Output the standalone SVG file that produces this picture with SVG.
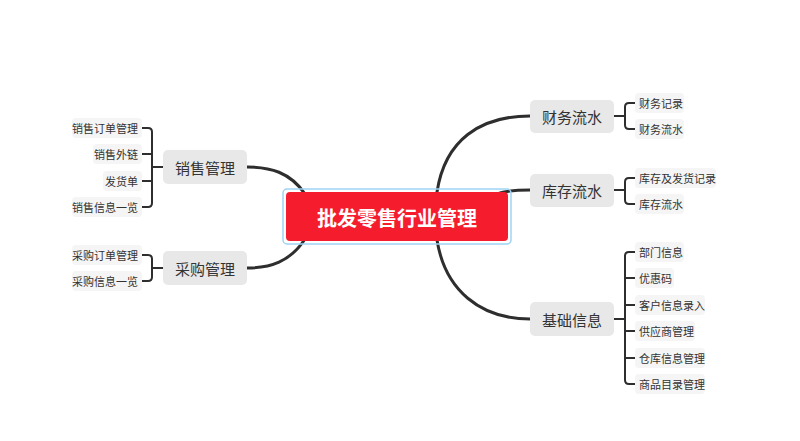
<svg xmlns="http://www.w3.org/2000/svg" width="800" height="441" viewBox="0 0 800 441">
<style>
text{font-family:"Noto Sans CJK SC","Noto Sans",sans-serif;fill:#333}
.m rect{fill:#e8e8e8}
.m text{font-size:15px;text-anchor:middle;dominant-baseline:central}
.l rect{fill:#f5f5f5}
.l text{font-size:11px;dominant-baseline:central}
.c path{fill:none;stroke:#2e2e2e;stroke-width:3;stroke-linecap:round}
.b path{fill:none;stroke:#2e2e2e;stroke-width:2;stroke-linecap:round}
</style>
<rect width="800" height="441" fill="#fff"/>
<g class="c" id="connectors">
<path d="M305,194 C290,172 270,167 247,167"/>
<path d="M305,239 C290,262 270,268 247,268"/>
<path d="M437,192 C445,140 480,116 530,116"/>
<path d="M497,194 C505,191 515,190 530,190"/>
<path d="M437,240 C445,290 480,319 530,319"/>
</g>
<g class="b" id="brackets">
<path d="M163,167 H152 M142,128 H148 Q152,128 152,132 V203 Q152,207 148,207 H142 M142,154 H152 M142,181 H152"/>
<path d="M163,268 H152 M142,255 H148 Q152,255 152,259 V277 Q152,281 148,281 H142"/>
<path d="M614,116 H625 M635,103 H629 Q625,103 625,107 V125 Q625,129 629,129 H635"/>
<path d="M614,190 H625 M635,178 H629 Q625,178 625,182 V200 Q625,204 629,204 H635"/>
<path d="M614,319 H625 M635,252 H629 Q625,252 625,256 V380 Q625,384 629,384 H635 M635,278 H625 M635,305 H625 M635,331 H625 M635,358 H625"/>
</g>
<g id="root">
<rect x="283" y="189" width="228" height="55" rx="4" fill="none" stroke="#9fd3f5" stroke-width="1.5"/>
<rect x="286" y="192" width="222" height="49" rx="4" fill="#f51c2d"/>
<text x="397" y="217" font-size="20" font-weight="bold" text-anchor="middle" dominant-baseline="central" style="fill:#fff">批发零售行业管理</text>
</g>
<g class="m" id="n-sales"><rect x="163" y="150" width="84" height="34" rx="5"/><text x="205" y="167">销售管理</text></g>
<g class="m" id="n-purchase"><rect x="163" y="251" width="84" height="34" rx="5"/><text x="205" y="268">采购管理</text></g>
<g class="m" id="n-finance"><rect x="530" y="100" width="84" height="33" rx="5"/><text x="572" y="116">财务流水</text></g>
<g class="m" id="n-stock"><rect x="530" y="174" width="84" height="33" rx="5"/><text x="572" y="190">库存流水</text></g>
<g class="m" id="n-base"><rect x="530" y="302" width="84" height="34" rx="5"/><text x="572" y="319">基础信息</text></g>
<g class="l" id="l1"><rect x="72" y="118" width="70" height="20" rx="4"/><text x="138" y="128" text-anchor="end">销售订单管理</text></g>
<g class="l" id="l2"><rect x="93" y="144" width="49" height="20" rx="4"/><text x="138" y="154" text-anchor="end">销售外链</text></g>
<g class="l" id="l3"><rect x="103" y="171" width="39" height="20" rx="4"/><text x="138" y="181" text-anchor="end">发货单</text></g>
<g class="l" id="l4"><rect x="72" y="197" width="70" height="20" rx="4"/><text x="138" y="207" text-anchor="end">销售信息一览</text></g>
<g class="l" id="l5"><rect x="72" y="245" width="70" height="20" rx="4"/><text x="138" y="255" text-anchor="end">采购订单管理</text></g>
<g class="l" id="l6"><rect x="72" y="271" width="70" height="20" rx="4"/><text x="138" y="281" text-anchor="end">采购信息一览</text></g>
<g class="l" id="r1"><rect x="635" y="93" width="49" height="20" rx="4"/><text x="639" y="103">财务记录</text></g>
<g class="l" id="r2"><rect x="635" y="119" width="49" height="20" rx="4"/><text x="639" y="129">财务流水</text></g>
<g class="l" id="r3"><rect x="635" y="168" width="81" height="20" rx="4"/><text x="639" y="178">库存及发货记录</text></g>
<g class="l" id="r4"><rect x="635" y="194" width="49" height="20" rx="4"/><text x="639" y="204">库存流水</text></g>
<g class="l" id="r5"><rect x="635" y="242" width="49" height="20" rx="4"/><text x="639" y="252">部门信息</text></g>
<g class="l" id="r6"><rect x="635" y="268" width="39" height="20" rx="4"/><text x="639" y="278">优惠码</text></g>
<g class="l" id="r7"><rect x="635" y="295" width="70" height="20" rx="4"/><text x="639" y="305">客户信息录入</text></g>
<g class="l" id="r8"><rect x="635" y="321" width="60" height="20" rx="4"/><text x="639" y="331">供应商管理</text></g>
<g class="l" id="r9"><rect x="635" y="348" width="70" height="20" rx="4"/><text x="639" y="358">仓库信息管理</text></g>
<g class="l" id="r10"><rect x="635" y="374" width="70" height="20" rx="4"/><text x="639" y="384">商品目录管理</text></g>
</svg>
